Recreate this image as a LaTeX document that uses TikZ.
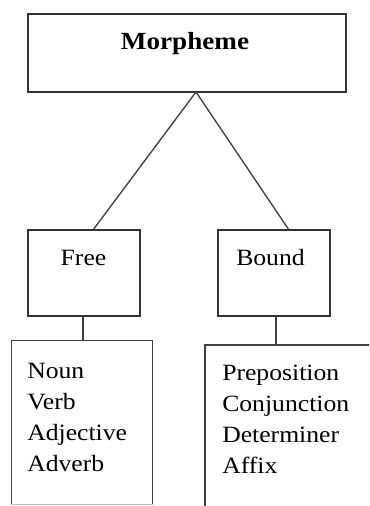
\documentclass[tikz,border=0pt]{standalone}
\usepackage{fontspec}
\setmainfont{Liberation Serif}[FakeStretch=1.1]
\begin{document}
\begin{tikzpicture}[x=0.75pt,y=-0.75pt,
  box/.style={draw=black!80, line width=1pt, inner sep=0pt, fill=white},
  conn/.style={draw=black!75, line width=1pt},
  lbl/.style={font=\fontsize{17.5}{23.3}\selectfont, inner sep=0pt},
  list/.style={font=\fontsize{17.5}{23.3}\selectfont, inner sep=0pt, align=left, anchor=north west}]
\useasboundingbox (0,0) rectangle (369,506);
\clip (0,0) rectangle (369,506);
% boxes
\node[box, minimum width=318*0.75pt, minimum height=78*0.75pt] (morph) at (187,53) {};
\node[box, minimum width=112*0.75pt, minimum height=86*0.75pt] (free) at (84,273) {};
\node[box, minimum width=112*0.75pt, minimum height=86*0.75pt] (bound) at (274,273) {};
\node[box, draw=none, minimum width=140*0.75pt, minimum height=163*0.75pt] (freelist) at (82,422.5) {};
\draw[conn] (freelist.south west) -- (freelist.north west) -- (freelist.north east) -- (freelist.south east);
\draw[draw=black!25, line width=1pt] (freelist.south west) -- (freelist.south east);
\coordinate (bl) at (205,345);
\draw[conn] (205,520) -- (bl) -- (380,345);
% texts
\node[lbl, font=\fontsize{18.5}{22}\selectfont\bfseries, anchor=base] (tm) at (185,50) {Morpheme};
\node[lbl, anchor=base] (tf) at (83.5,265) {Free};
\node[lbl, anchor=base] (tb) at (270.5,265) {Bound};
\node[list] (tfl) at (27,363) {Noun\\Verb\\Adjective\\Adverb};
\node[list] (tbl) at (222,365) {Preposition\\Conjunction\\Determiner\\Affix};
% connectors
\coordinate (apex) at (196,92);
\coordinate (fa) at (93,230);
\coordinate (ba) at (289,230);
\draw[conn] (fa) -- (apex) -- (ba);
\draw[conn] (free.south -| 83,0) -- (freelist.north -| 83,0);
\draw[conn] (bound.south -| 276,0) -- (bl -| 276,0);
\end{tikzpicture}
\end{document}
